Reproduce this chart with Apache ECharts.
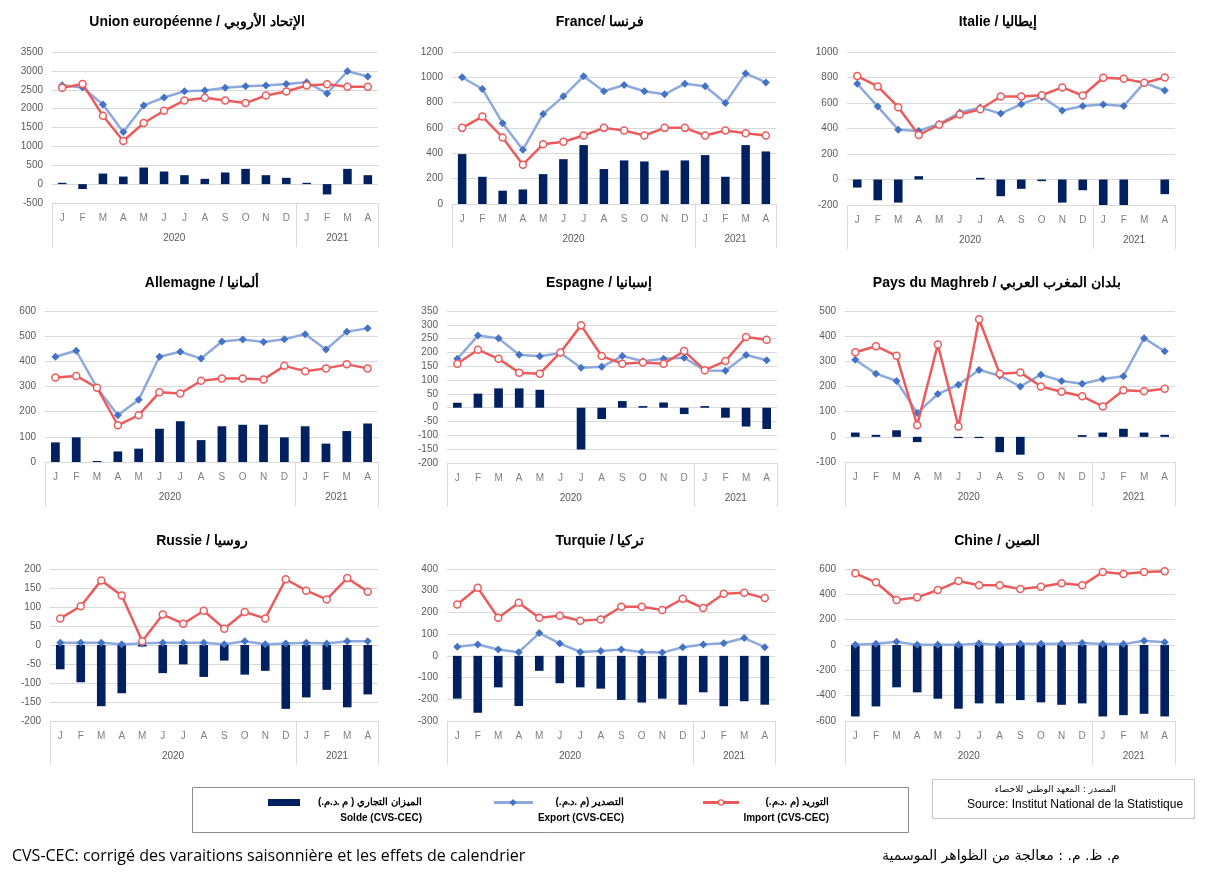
<!DOCTYPE html>
<html><head><meta charset="utf-8">
<script src="https://cdn.jsdelivr.net/npm/echarts@6/dist/echarts.min.js"></script>
<style>html,body{margin:0;padding:0;background:#fff}#c{width:1206px;height:879px}</style>
</head><body><div id="c"></div>
<script>
const months = ['J','F','M','A','M','J','J','A','S','O','N','D','J','F','M','A'];
const years = ['2020','2021'];

const euExport = [2620,2560,2110,1380,2084,2295,2462,2480,2550,2594,2612,2655,2700,2400,2990,2849];
const euImport = [2550,2655,1810,1143,1618,1943,2216,2286,2216,2146,2348,2453,2612,2647,2577,2577];
const euSolde  = [35,-130,280,200,440,334,237,140,308,404,237,167,35,-273,404,237];

const frExport = [1000,908,638,428,711,850,1008,890,940,890,866,950,929,798,1031,960];
const frImport = [601,690,525,310,472,491,541,601,580,541,601,601,541,580,559,541];
const frSolde  = [394,215,105,115,236,354,465,276,344,336,265,344,386,215,465,415];

const itExport = [751,572,391,381,436,525,564,517,591,648,541,577,588,577,758,698];
const itImport = [811,730,567,349,430,509,551,651,651,661,722,659,798,790,758,800];
const itSolde  = [-63,-163,-181,26,0,0,13,-131,-73,-13,-181,-84,-210,-213,0,-115];

const deExport = [418,442,295,186,247,418,438,411,479,487,477,488,508,447,518,531];
const deImport = [336,342,295,146,186,277,272,323,332,332,328,382,361,372,388,372];
const deSolde  = [78,98,4,42,53,132,162,87,142,148,148,98,142,73,123,153];

const esExport = [177,261,251,192,186,198,145,148,187,168,177,181,135,134,191,172];
const esImport = [159,210,177,127,123,200,298,187,159,164,159,205,136,169,256,246];
const esSolde  = [18,51,70,70,65,0,-151,-41,24,6,19,-23,6,-36,-68,-77];

const mgExport = [306,251,222,95,170,207,266,243,200,247,222,211,230,241,392,340];
const mgImport = [336,360,322,46,367,41,467,251,256,200,179,161,121,185,181,191];
const mgSolde  = [17,8,26,-21,0,-5,-5,-61,-71,0,0,7,17,32,17,8];

const ruExport = [6,6,6,2,4,6,6,6,2,10,2,4,6,4,10,10];
const ruImport = [70,102,170,130,10,80,56,90,43,87,70,173,143,120,176,140];
const ruSolde  = [-64,-98,-161,-127,-4,-74,-51,-84,-41,-78,-68,-168,-138,-118,-164,-130];

const trExport = [42,52,29,17,105,57,18,22,29,18,15,40,52,58,82,40];
const trImport = [237,314,175,245,175,185,162,168,226,226,211,263,220,286,291,266];
const trSolde  = [-197,-262,-145,-231,-69,-126,-145,-151,-203,-215,-197,-225,-168,-232,-209,-225];

const cnExport = [1,9,25,1,1,1,12,1,9,9,9,15,7,7,33,22];
const cnImport = [566,495,355,376,434,505,471,471,442,460,487,471,576,561,576,582];
const cnSolde  = [-564,-485,-334,-374,-424,-503,-461,-461,-435,-453,-472,-461,-564,-554,-543,-564];

const titles = [
  'Union européenne / الإتحاد الأروبي', 'France/ فرنسا', 'Italie / إيطاليا',
  'Allemagne / ألمانيا', 'Espagne / إسبانيا', 'Pays du Maghreb / بلدان المغرب العربي',
  'Russie / روسيا', 'Turquie / تركيا', 'Chine / الصين'
];
const exportsData = [euExport, frExport, itExport, deExport, esExport, mgExport, ruExport, trExport, cnExport];
const importsData = [euImport, frImport, itImport, deImport, esImport, mgImport, ruImport, trImport, cnImport];
const soldeData   = [euSolde, frSolde, itSolde, deSolde, esSolde, mgSolde, ruSolde, trSolde, cnSolde];
const yMin  = [-500, 0, -200, 0, -200, -100, -200, -300, -600];
const yMax  = [3500, 1200, 1000, 600, 350, 500, 200, 400, 600];
const yStep = [500, 200, 200, 100, 50, 100, 50, 100, 200];

// layout (pixel boxes of plot areas and title centres)
const boxes = [
  [52,52,326,151],[452,52,324,152],[847,52,328,153],
  [45,311,333,151],[447,311,330,152],[845,311,330,151],
  [50,569,328,152],[447,569,328,152],[845,569,330,152]
];
const titlePos = [[197,22],[600,22],[998,22],[202,283],[599,283],[997,283],[202,541],[600,541],[997,541]];

const NAVY = '#002060', BLUE_L = '#8EA9DB', BLUE_M = '#4472C4', RED = '#EC5B5B';
const GRID = '#d9d9d9';

const grid = [], xAxis = [], yAxis = [], series = [], graphic = [];
boxes.forEach((b, i) => {
  grid.push({left: b[0], top: b[1], width: b[2], height: b[3], containLabel: false});
  xAxis.push({
    type: 'category', gridIndex: i, data: months, position: 'bottom',
    axisLine: {show: false}, axisTick: {show: false},
    axisLabel: {color: '#7f7f7f', fontSize: 10, margin: 10, interval: 0, fontFamily: 'Liberation Sans'}
  });
  xAxis.push({
    type: 'value', gridIndex: i, min: 0, max: 16, position: 'bottom',
    axisLine: {show: false}, splitLine: {show: false},
    axisTick: {show: true, customValues: [0, 12, 16], length: 44, inside: false, lineStyle: {color: GRID, width: 1}},
    axisLabel: {show: true, customValues: [6, 14], margin: 30, color: '#595959', fontSize: 10, fontFamily: 'Liberation Sans',
      formatter: v => (v === 6 ? years[0] : (v === 14 ? years[1] : ''))}
  });
  yAxis.push({
    type: 'value', gridIndex: i, min: yMin[i], max: yMax[i], interval: yStep[i],
    axisLine: {show: false}, axisTick: {show: false},
    splitLine: {show: true, lineStyle: {color: GRID, width: 1}},
    axisLabel: {color: '#595959', fontSize: 10, margin: 9, fontFamily: 'Liberation Sans', formatter: v => String(v)}
  });
  series.push({
    type: 'bar', name: 'Solde (CVS-CEC)', xAxisIndex: 2 * i, yAxisIndex: i, data: soldeData[i],
    barWidth: '42%', itemStyle: {color: NAVY}, clip: true, silent: true
  });
  series.push({
    type: 'line', name: 'Export (CVS-CEC)', xAxisIndex: 2 * i, yAxisIndex: i, data: exportsData[i],
    symbol: 'diamond', symbolSize: 8, showAllSymbol: true,
    lineStyle: {color: BLUE_L, width: 2.5}, itemStyle: {color: BLUE_M}, silent: true, z: 3
  });
  series.push({
    type: 'line', name: 'Import (CVS-CEC)', xAxisIndex: 2 * i, yAxisIndex: i, data: importsData[i],
    symbol: 'circle', symbolSize: 7, showAllSymbol: true,
    lineStyle: {color: RED, width: 2.5}, itemStyle: {color: '#fff', borderColor: RED, borderWidth: 1.5}, silent: true, z: 4
  });
  graphic.push({
    type: 'text', x: titlePos[i][0], y: titlePos[i][1],
    style: {text: titles[i], fill: '#000', font: 'bold 14px "Liberation Sans", Arial, sans-serif',
      textAlign: 'center', textVerticalAlign: 'middle'}
  });
});

const RLE = '\u202B', PDF = '\u202C';
const legFont = 'bold 10px "Liberation Sans Narrow", "Liberation Sans", sans-serif';
const legendItems = [
  {ar: 'الميزان التجاري ( م .د.م.)', fr: 'Solde (CVS-CEC)', right: 422},
  {ar: 'التصدير (م .د.م.)', fr: 'Export (CVS-CEC)', right: 624},
  {ar: 'التوريد (م .د.م.)', fr: 'Import (CVS-CEC)', right: 829}
];
graphic.push({type: 'rect', shape: {x: 192.5, y: 787.5, width: 716, height: 45}, style: {fill: 'none', stroke: '#8c8c8c', lineWidth: 1}});
graphic.push({type: 'rect', shape: {x: 268, y: 799, width: 32, height: 7}, style: {fill: NAVY}});
graphic.push({type: 'line', shape: {x1: 494, y1: 802.5, x2: 533, y2: 802.5}, style: {stroke: BLUE_L, lineWidth: 3}});
graphic.push({type: 'polygon', shape: {points: [[513,799],[516.5,802.5],[513,806],[509.5,802.5]]}, style: {fill: BLUE_M}});
graphic.push({type: 'line', shape: {x1: 703, y1: 802.5, x2: 739, y2: 802.5}, style: {stroke: RED, lineWidth: 3}});
graphic.push({type: 'circle', shape: {cx: 721, cy: 802.5, r: 2.6}, style: {fill: '#fff', stroke: RED, lineWidth: 1.2}});
legendItems.forEach(it => {
  graphic.push({type: 'text', x: it.right, y: 802, style: {text: RLE + it.ar + PDF, font: legFont, fill: '#000', textAlign: 'right', textVerticalAlign: 'middle'}});
  graphic.push({type: 'text', x: it.right, y: 818, style: {text: it.fr, font: legFont, fill: '#000', textAlign: 'right', textVerticalAlign: 'middle'}});
});
graphic.push({type: 'rect', shape: {x: 932.5, y: 779.5, width: 262, height: 39}, style: {fill: 'none', stroke: '#c8c8c8', lineWidth: 1}});
graphic.push({type: 'text', x: 1116, y: 790, style: {text: RLE + 'المصدر : المعهد الوطني للاحصاء' + PDF, font: '9px "DejaVu Sans", sans-serif', fill: '#000', textAlign: 'right', textVerticalAlign: 'middle'}});
graphic.push({type: 'text', x: 967, y: 805, style: {text: 'Source: Institut National de la Statistique', font: '12px "Liberation Sans Narrow", "Liberation Sans", sans-serif', fill: '#000', textAlign: 'left', textVerticalAlign: 'middle'}});
graphic.push({type: 'text', x: 12, y: 856, style: {text: 'CVS-CEC: corrigé des varaitions saisonnière et les effets de calendrier', font: '16px "Open Sans", sans-serif', fill: '#000', textAlign: 'left', textVerticalAlign: 'middle'}});
graphic.push({type: 'text', x: 1120, y: 856, style: {text: RLE + 'م. ظ. م. : معالجة من الظواهر الموسمية' + PDF, font: '14px "DejaVu Sans", sans-serif', fill: '#000', textAlign: 'right', textVerticalAlign: 'middle'}});

const chart = echarts.init(document.getElementById('c'), null, {renderer: 'canvas'});
chart.setOption({
  backgroundColor: '#fff',
  animation: false,
  grid, xAxis, yAxis, series, graphic
});
</script>
</body></html>
